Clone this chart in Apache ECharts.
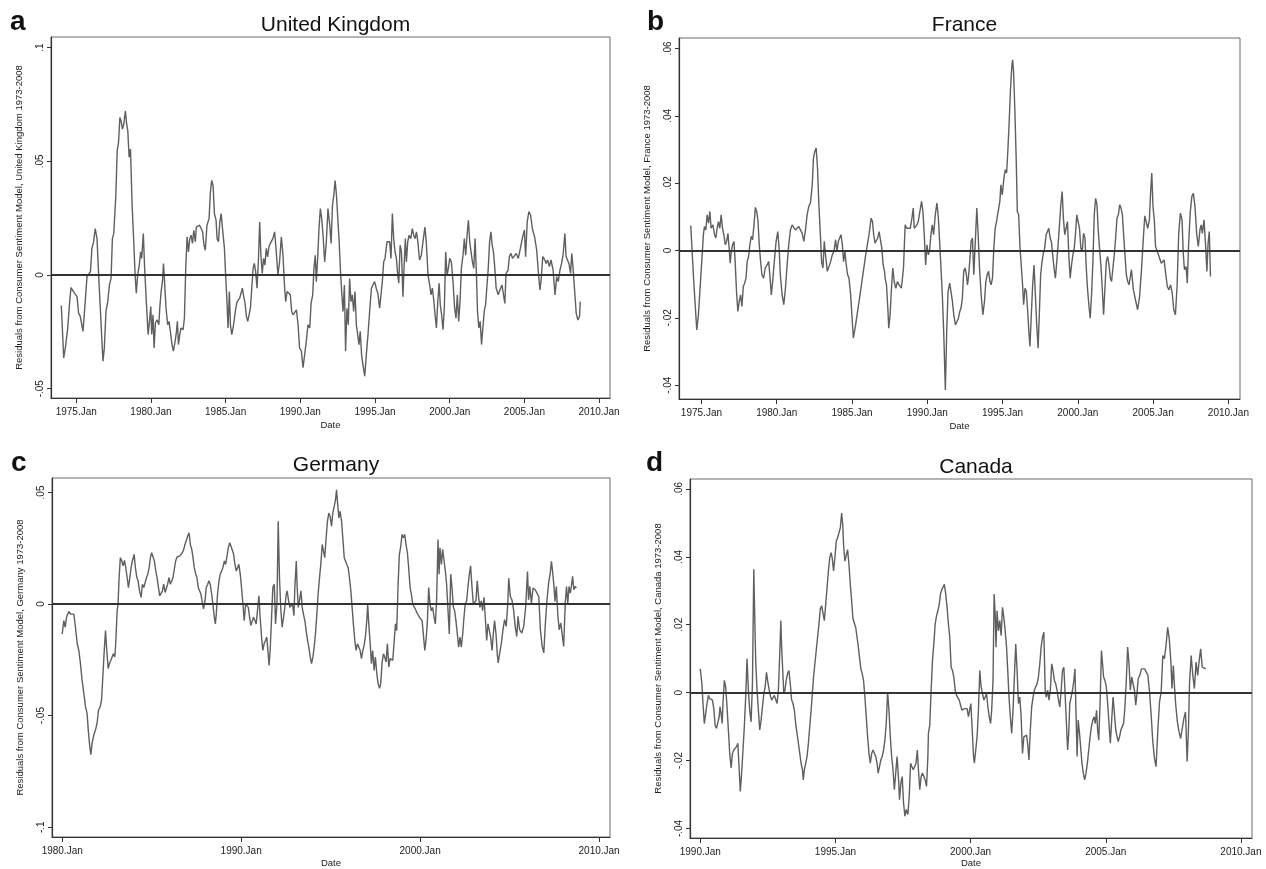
<!DOCTYPE html>
<html>
<head>
    <meta charset="UTF-8">
    <title>Residuals from Consumer Sentiment Model</title>
    <script src="https://cdn.jsdelivr.net/npm/echarts@6/dist/echarts.min.js"></script>
    <style>
        body { margin: 0; background: #fff; }
        #chart { width: 1266px; height: 869px; }
    </style>
</head>
<body>
    <div id="chart"></div>
    <script>
        // ---- data: [decimal year, residual] ----
        const ukData = [
            [1974.00,-0.0134],[1974.16,-0.0365],[1974.27,-0.0321],[1974.43,-0.0233],[1974.56,-0.0117],[1974.65,-0.0055],[1974.78,-0.0061],[1974.85,-0.0076],[1974.96,-0.0076],[1975.05,-0.0095],[1975.16,-0.0168],[1975.27,-0.0182],[1975.36,-0.0175],[1975.45,-0.0248],[1975.52,-0.0190],[1975.63,-0.0182],[1975.72,-0.0007],[1975.84,0.0000],[1975.95,0.0015],[1976.05,0.0117],[1976.16,0.0146],[1976.27,0.0204],[1976.39,0.0160],[1976.50,0.0000],[1976.61,-0.0146],[1976.72,-0.0292],[1976.79,-0.0379],[1976.88,-0.0321],[1976.99,-0.0160],[1977.11,-0.0117],[1977.22,-0.0044],[1977.33,-0.0015],[1977.42,0.0160],[1977.51,0.0182],[1977.65,0.0350],[1977.74,0.0547],[1977.83,0.0583],[1977.92,0.0693],[1978.00,0.0678],[1978.09,0.0642],[1978.18,0.0663],[1978.29,0.0722],[1978.36,0.0671],[1978.45,0.0634],[1978.54,0.0518],[1978.63,0.0554],[1978.74,0.0306],[1978.85,0.0146],[1978.94,0.0000],[1979.02,-0.0080],[1979.11,0.0000],[1979.22,0.0044],[1979.31,0.0102],[1979.38,0.0073],[1979.49,0.0182],[1979.58,0.0029],[1979.69,-0.0117],[1979.81,-0.0262],[1979.90,-0.0204],[1979.99,-0.0139],[1980.05,-0.0262],[1980.14,-0.0175],[1980.21,-0.0321],[1980.30,-0.0211],[1980.41,-0.0197],[1980.53,-0.0219],[1980.59,-0.0146],[1980.68,-0.0073],[1980.77,-0.0029],[1980.84,0.0051],[1980.91,-0.0029],[1981.01,-0.0146],[1981.12,-0.0219],[1981.21,-0.0204],[1981.30,-0.0248],[1981.41,-0.0306],[1981.50,-0.0335],[1981.62,-0.0292],[1981.71,-0.0248],[1981.77,-0.0204],[1981.84,-0.0306],[1981.93,-0.0262],[1982.01,-0.0233],[1982.15,-0.0241],[1982.24,-0.0190],[1982.33,0.0029],[1982.42,0.0168],[1982.51,0.0102],[1982.60,0.0160],[1982.69,0.0175],[1982.78,0.0139],[1982.87,0.0197],[1982.97,0.0146],[1983.04,0.0211],[1983.13,0.0219],[1983.26,0.0219],[1983.35,0.0226],[1983.46,0.0190],[1983.55,0.0131],[1983.64,0.0109],[1983.75,0.0219],[1983.89,0.0248],[1983.98,0.0365],[1984.07,0.0416],[1984.16,0.0394],[1984.25,0.0270],[1984.36,0.0241],[1984.43,0.0160],[1984.52,0.0146],[1984.61,0.0233],[1984.70,0.0270],[1984.79,0.0204],[1984.92,0.0117],[1985.00,0.0000],[1985.09,-0.0117],[1985.16,-0.0233],[1985.25,-0.0073],[1985.32,-0.0219],[1985.41,-0.0262],[1985.50,-0.0233],[1985.59,-0.0190],[1985.68,-0.0146],[1985.77,-0.0117],[1985.86,-0.0117],[1985.94,-0.0102],[1986.03,-0.0080],[1986.12,-0.0058],[1986.21,-0.0095],[1986.30,-0.0124],[1986.39,-0.0182],[1986.48,-0.0204],[1986.57,-0.0211],[1986.66,-0.0146],[1986.75,-0.0058],[1986.84,0.0029],[1986.92,0.0051],[1987.01,0.0015],[1987.10,-0.0058],[1987.19,0.0058],[1987.28,0.0233],[1987.36,0.0087],[1987.45,0.0007],[1987.54,0.0073],[1987.63,0.0044],[1987.72,0.0117],[1987.81,0.0080],[1987.90,0.0124],[1987.99,0.0139],
            [1988.16,0.0160],[1988.28,0.0190],[1988.39,0.0102],[1988.50,0.0000],[1988.61,0.0058],[1988.73,0.0168],[1988.84,0.0087],[1988.95,-0.0058],[1989.02,-0.0117],[1989.11,-0.0073],[1989.22,-0.0066],[1989.33,-0.0087],[1989.42,-0.0160],[1989.51,-0.0175],[1989.63,-0.0168],[1989.74,-0.0153],[1989.85,-0.0219],[1989.95,-0.0321],[1990.07,-0.0335],[1990.18,-0.0408],[1990.29,-0.0350],[1990.40,-0.0292],[1990.51,-0.0219],[1990.63,-0.0233],[1990.72,-0.0124],[1990.83,-0.0087],[1990.91,0.0029],[1991.00,0.0087],[1991.07,-0.0029],[1991.16,0.0073],[1991.25,0.0204],[1991.34,0.0292],[1991.43,0.0248],[1991.52,0.0175],[1991.63,0.0058],[1991.74,0.0146],[1991.85,0.0292],[1991.97,0.0219],[1992.06,0.0139],[1992.15,0.0306],[1992.24,0.0350],[1992.33,0.0416],[1992.42,0.0350],[1992.51,0.0248],[1992.60,0.0146],[1992.69,0.0015],[1992.78,-0.0087],[1992.86,-0.0160],[1992.95,-0.0044],[1993.03,-0.0335],[1993.12,-0.0146],[1993.21,-0.0219],[1993.30,-0.0015],[1993.39,-0.0117],[1993.48,-0.0087],[1993.57,-0.0160],[1993.66,-0.0073],[1993.75,-0.0219],[1993.84,-0.0262],[1993.93,-0.0306],[1994.01,-0.0248],[1994.10,-0.0350],[1994.19,-0.0394],[1994.31,-0.0445],[1994.42,-0.0350],[1994.53,-0.0262],[1994.64,-0.0160],[1994.76,-0.0058],[1994.86,-0.0044],[1994.97,-0.0029],[1995.08,-0.0058],[1995.19,-0.0080],[1995.31,-0.0146],[1995.40,-0.0087],[1995.49,-0.0029],[1995.58,0.0058],[1995.67,0.0073],[1995.80,0.0146],[1995.89,0.0153],[1995.98,0.0146],[1996.07,0.0073],[1996.16,0.0270],[1996.25,0.0160],[1996.34,0.0102],[1996.43,0.0073],[1996.52,0.0000],[1996.59,-0.0036],[1996.68,0.0131],[1996.77,0.0102],[1996.87,-0.0095],[1996.94,0.0029],[1997.03,0.0160],[1997.10,0.0058],[1997.19,0.0146],[1997.28,0.0175],[1997.39,0.0160],[1997.50,0.0204],[1997.59,0.0175],[1997.68,0.0160],[1997.77,0.0190],[1997.87,0.0146],[1997.98,0.0066],[1998.10,0.0087],[1998.21,0.0146],[1998.34,0.0211],[1998.43,0.0146],[1998.55,0.0000],[1998.66,-0.0044],[1998.75,-0.0087],[1998.84,-0.0058],[1998.93,-0.0109],[1999.02,-0.0175],[1999.11,-0.0233],[1999.20,-0.0117],[1999.29,-0.0036],[1999.37,-0.0131],[1999.46,-0.0175],[1999.55,-0.0241],[1999.64,-0.0146],[1999.73,0.0102],[1999.82,0.0000],[1999.91,0.0029],[2000.00,0.0073],[2000.11,0.0058],[2000.22,-0.0029],[2000.33,-0.0146],[2000.42,-0.0190],[2000.51,-0.0087],[2000.60,-0.0204],[2000.69,-0.0117],[2000.78,0.0029],[2000.89,0.0087],[2000.98,0.0160],[2001.07,0.0087],[2001.16,0.0175],[2001.25,0.0241],[2001.34,0.0146],[2001.43,0.0102],[2001.52,0.0058],[2001.61,0.0029],[2001.70,0.0160],[2001.79,0.0000],[2001.86,-0.0160],[2001.95,-0.0233],[2002.04,-0.0204],[2002.13,-0.0306],[2002.22,-0.0233],[2002.31,-0.0160],[2002.40,-0.0131],[2002.49,-0.0131],[2002.58,0.0029],[2002.67,0.0146],[2002.76,0.0190],[2002.84,0.0131],[2002.93,0.0102],[2003.02,0.0029],[2003.11,-0.0058],[2003.25,-0.0087],
            [2003.36,-0.0066],[2003.50,-0.0044],[2003.69,-0.0125],[2003.77,0.0007],[2003.91,0.0022],[2003.99,0.0081],[2004.10,0.0095],[2004.21,0.0073],[2004.32,0.0081],[2004.45,0.0095],[2004.59,0.0073],[2004.73,0.0117],[2004.86,0.0161],[2005.00,0.0198],[2005.08,0.0081],[2005.19,0.0235],[2005.30,0.0279],[2005.41,0.0264],[2005.55,0.0198],[2005.68,0.0169],[2005.82,0.0110],[2005.96,-0.0007],[2006.04,-0.0066],[2006.12,-0.0022],[2006.23,0.0081],[2006.37,0.0066],[2006.45,0.0051],[2006.56,0.0066],[2006.67,0.0037],[2006.78,0.0066],[2006.92,0.0022],[2007.05,-0.0088],[2007.16,-0.0007],[2007.27,-0.0029],[2007.38,0.0022],[2007.49,0.0051],[2007.60,0.0095],[2007.71,0.0183],[2007.79,0.0081],[2007.87,0.0088],[2007.98,0.0051],[2008.09,0.0007],[2008.17,0.0095],[2008.25,0.0037],[2008.36,-0.0066],[2008.47,-0.0169],[2008.58,-0.0198],[2008.69,-0.0183],[2008.74,-0.0117]
        ];

        const franceData = [
            [1974.29,0.0074],[1974.49,-0.0092],[1974.69,-0.0236],[1974.80,-0.0191],[1974.91,-0.0112],[1975.02,-0.0033],[1975.13,0.0047],[1975.20,0.0071],[1975.29,0.0061],[1975.38,0.0106],[1975.47,0.0081],[1975.56,0.0116],[1975.64,0.0066],[1975.76,0.0076],[1975.87,0.0047],[1975.96,0.0037],[1976.04,0.0066],[1976.13,0.0086],[1976.22,0.0066],[1976.31,0.0106],[1976.40,0.0066],[1976.49,0.0047],[1976.58,0.0017],[1976.67,0.0027],[1976.76,0.0051],[1976.84,0.0007],[1976.91,-0.0038],[1976.98,-0.0003],[1977.07,0.0017],[1977.16,0.0027],[1977.24,-0.0033],[1977.33,-0.0122],[1977.42,-0.0181],[1977.51,-0.0151],[1977.60,-0.0132],[1977.69,-0.0166],[1977.78,-0.0107],[1977.87,-0.0097],[1977.96,-0.0082],[1978.04,-0.0033],[1978.13,-0.0018],[1978.22,0.0017],[1978.31,0.0042],[1978.40,0.0032],[1978.49,0.0076],[1978.58,0.0128],[1978.67,0.0116],[1978.76,0.0086],[1978.84,0.0017],[1978.93,-0.0033],[1979.02,-0.0072],[1979.13,-0.0082],[1979.24,-0.0052],[1979.36,-0.0043],[1979.47,-0.0033],[1979.56,-0.0082],[1979.64,-0.0132],[1979.73,-0.0092],[1979.84,-0.0033],[1979.96,0.0027],[1980.07,0.0056],[1980.16,0.0007],[1980.24,-0.0072],[1980.36,-0.0132],[1980.47,-0.0161],[1980.58,-0.0112],[1980.69,-0.0043],[1980.80,0.0017],[1980.91,0.0061],[1981.02,0.0076],[1981.13,0.0071],[1981.24,0.0061],[1981.36,0.0066],[1981.47,0.0071],[1981.58,0.0071],[1981.69,0.0051],[1981.80,0.0027],[1981.91,0.0061],[1982.02,0.0106],[1982.13,0.0131],[1982.24,0.0141],[1982.36,0.0195],[1982.44,0.0274],[1982.53,0.0294],[1982.62,0.0304],[1982.71,0.0245],[1982.80,0.0136],[1982.89,0.0056],[1982.98,-0.0033],[1983.07,-0.0052],[1983.16,0.0027],[1983.24,-0.0013],[1983.36,-0.0062],[1983.47,-0.0057],[1983.58,-0.0033],[1983.69,-0.0013],[1983.80,-0.0003],[1983.91,0.0032],[1984.00,-0.0003],[1984.09,0.0027],[1984.18,0.0037],[1984.27,0.0047],[1984.36,0.0017],[1984.44,-0.0033],[1984.53,-0.0003],[1984.62,-0.0043],[1984.71,-0.0072],[1984.80,-0.0082],[1984.91,-0.0132],[1985.02,-0.0211],[1985.09,-0.0260],[1985.24,-0.0221],[1985.47,-0.0151],[1985.69,-0.0082],[1985.91,-0.0013],[1986.13,0.0047],[1986.27,0.0096],[1986.36,0.0086],[1986.44,0.0047],[1986.53,0.0022],[1986.62,0.0027],[1986.71,0.0037],[1986.80,0.0056],[1986.89,0.0051],[1986.98,0.0007],[1987.07,-0.0043],[1987.16,-0.0062],[1987.20,-0.0082],[1987.29,-0.0102],[1987.38,-0.0171],[1987.44,-0.0231],[1987.53,-0.0191],[1987.62,-0.0112],[1987.71,-0.0052],[1987.80,-0.0092],[1987.91,-0.0112],[1988.02,-0.0092],[1988.13,-0.0102],[1988.27,-0.0112],
            [1988.33,-0.0092],[1988.42,-0.0052],[1988.53,0.0076],[1988.64,0.0066],[1988.76,0.0061],[1988.87,0.0066],[1988.98,0.0096],[1989.07,0.0126],[1989.13,0.0066],[1989.22,0.0061],[1989.31,0.0076],[1989.40,0.0086],[1989.51,0.0116],[1989.62,0.0146],[1989.71,0.0116],[1989.80,0.0047],[1989.89,-0.0043],[1989.98,0.0017],[1990.07,-0.0013],[1990.16,0.0002],[1990.24,0.0047],[1990.33,0.0076],[1990.42,0.0047],[1990.53,0.0106],[1990.64,0.0141],[1990.73,0.0101],[1990.82,0.0027],[1990.91,-0.0052],[1991.00,-0.0132],[1991.09,-0.0241],[1991.20,-0.0414],[1991.29,-0.0241],[1991.38,-0.0122],[1991.49,-0.0097],[1991.58,-0.0097],[1991.67,-0.0151],[1991.76,-0.0191],[1991.87,-0.0221],[1991.98,-0.0216],[1992.07,-0.0201],[1992.16,-0.0181],[1992.24,-0.0171],[1992.33,-0.0142],[1992.42,-0.0062],[1992.51,-0.0052],[1992.60,-0.0072],[1992.67,-0.0102],[1992.73,-0.0082],[1992.82,-0.0033],[1992.91,0.0027],[1993.00,0.0037],[1993.09,-0.0072],[1993.18,0.0017],[1993.29,0.0126],[1993.38,0.0047],[1993.47,-0.0052],[1993.58,-0.0132],[1993.69,-0.0191],[1993.80,-0.0151],[1993.89,-0.0092],[1993.98,-0.0072],[1994.07,-0.0062],[1994.16,-0.0092],[1994.24,-0.0102],[1994.33,-0.0082],[1994.42,0.0007],[1994.51,0.0066],[1994.60,0.0086],[1994.71,0.0116],[1994.82,0.0146],[1994.89,0.0195],[1994.98,0.0165],[1995.09,0.0215],[1995.18,0.0240],[1995.27,0.0230],[1995.36,0.0304],[1995.44,0.0383],[1995.53,0.0482],[1995.62,0.0551],[1995.67,0.0566],[1995.73,0.0532],[1995.82,0.0413],[1995.91,0.0264],[1995.98,0.0116],[1996.07,0.0106],[1996.16,0.0007],[1996.24,-0.0043],[1996.33,-0.0102],[1996.40,-0.0161],[1996.49,-0.0112],[1996.58,-0.0122],[1996.67,-0.0181],[1996.76,-0.0250],[1996.82,-0.0285],[1996.91,-0.0191],[1997.00,-0.0102],[1997.09,-0.0043],[1997.18,-0.0132],[1997.27,-0.0221],[1997.36,-0.0290],[1997.44,-0.0191],[1997.53,-0.0072],[1997.62,-0.0033],[1997.71,-0.0008],[1997.80,0.0007],[1997.89,0.0047],[1997.98,0.0056],[1998.07,0.0066],[1998.16,0.0037],[1998.24,0.0027],[1998.33,-0.0013],[1998.42,-0.0052],[1998.51,-0.0082],[1998.60,-0.0033],[1998.69,0.0017],[1998.78,0.0076],[1998.87,0.0136],[1998.96,0.0175],[1999.04,0.0096],[1999.13,0.0047],[1999.22,0.0066],[1999.31,0.0086],[1999.40,-0.0013],[1999.49,-0.0082],[1999.58,-0.0043],[1999.67,-0.0013],[1999.76,0.0007],[1999.84,0.0047],[1999.93,0.0106],[2000.02,0.0086],[2000.11,0.0066],[2000.20,0.0007],[2000.29,-0.0003],[2000.38,0.0051],[2000.47,0.0037],[2000.56,-0.0052],[2000.64,-0.0112],[2000.73,-0.0161],[2000.82,-0.0201],[2000.91,-0.0132],[2001.00,-0.0033],[2001.09,0.0106],[2001.18,0.0155],[2001.27,0.0136],[2001.36,0.0056],[2001.44,0.0007],[2001.53,-0.0043],[2001.62,-0.0112],[2001.71,-0.0191],[2001.80,-0.0112],[2001.89,-0.0033],[2001.98,-0.0018],[2002.07,-0.0043],[2002.16,-0.0082],[2002.24,-0.0092],[2002.33,-0.0052],[2002.42,-0.0013],[2002.51,0.0037],[2002.60,0.0096],[2002.69,0.0106],[2002.78,0.0136],[2002.87,0.0126],[2002.96,0.0106],[2003.04,0.0047],[2003.13,-0.0013],[2003.22,-0.0072],[2003.31,-0.0092],[2003.40,-0.0102],
            [2003.56,-0.0057],[2003.69,-0.0117],[2003.83,-0.0147],[2003.97,-0.0176],[2004.10,-0.0137],[2004.24,-0.0048],[2004.37,0.0051],[2004.45,0.0103],[2004.56,0.0081],[2004.64,0.0066],[2004.75,0.0091],[2004.83,0.0170],[2004.91,0.0230],[2004.99,0.0131],[2005.08,0.0091],[2005.16,0.0012],[2005.24,0.0017],[2005.32,-0.0008],[2005.43,-0.0023],[2005.54,-0.0038],[2005.64,-0.0043],[2005.73,-0.0028],[2005.83,-0.0067],[2005.94,-0.0107],[2006.05,-0.0117],[2006.16,-0.0102],[2006.27,-0.0127],[2006.37,-0.0176],[2006.48,-0.0191],[2006.59,-0.0107],[2006.70,0.0051],[2006.81,0.0111],[2006.92,0.0091],[2007.00,-0.0008],[2007.08,-0.0057],[2007.19,-0.0048],[2007.27,-0.0097],[2007.35,0.0012],[2007.46,0.0111],[2007.57,0.0160],[2007.67,0.0170],[2007.78,0.0131],[2007.89,0.0051],[2008.00,0.0012],[2008.11,0.0061],[2008.19,0.0076],[2008.27,0.0051],[2008.38,0.0091],[2008.49,0.0012],[2008.57,-0.0062],[2008.65,0.0022],[2008.73,0.0056],[2008.81,-0.0077]
        ];

        const germanyData = [
            [1980.00,-0.0134],[1980.09,-0.0074],[1980.17,-0.0104],[1980.24,-0.0059],[1980.31,-0.0045],[1980.39,-0.0033],[1980.46,-0.0045],[1980.56,-0.0042],[1980.65,-0.0045],[1980.74,-0.0104],[1980.84,-0.0178],[1980.93,-0.0208],[1981.02,-0.0267],[1981.11,-0.0341],[1981.21,-0.0401],[1981.30,-0.0460],[1981.39,-0.0490],[1981.47,-0.0579],[1981.54,-0.0638],[1981.60,-0.0675],[1981.67,-0.0623],[1981.77,-0.0586],[1981.86,-0.0564],[1981.95,-0.0534],[1982.03,-0.0475],[1982.12,-0.0460],[1982.20,-0.0430],[1982.27,-0.0326],[1982.35,-0.0208],[1982.42,-0.0119],[1982.49,-0.0208],[1982.57,-0.0289],[1982.64,-0.0267],[1982.72,-0.0252],[1982.79,-0.0237],[1982.86,-0.0223],[1982.94,-0.0237],[1982.99,-0.0178],[1983.07,-0.0030],[1983.12,0.0000],[1983.18,0.0119],[1983.25,0.0208],[1983.33,0.0193],[1983.40,0.0171],[1983.48,0.0196],[1983.55,0.0163],[1983.63,0.0119],[1983.70,0.0074],[1983.78,0.0119],[1983.85,0.0163],[1983.92,0.0193],[1984.02,0.0223],[1984.09,0.0163],[1984.17,0.0119],[1984.24,0.0104],[1984.32,0.0059],[1984.41,0.0030],[1984.48,0.0089],[1984.56,0.0074],[1984.63,0.0074],[1984.71,0.0119],[1984.78,0.0134],[1984.86,0.0163],[1984.93,0.0208],[1985.00,0.0230],[1985.08,0.0237],[1985.15,0.0193],[1985.23,0.0148],[1985.30,0.0119],[1985.38,0.0074],[1985.45,0.0037],[1985.52,0.0045],[1985.60,0.0059],[1985.67,0.0089],[1985.75,0.0052],[1985.82,0.0059],[1985.89,0.0089],[1985.97,0.0119],[1986.04,0.0089],[1986.12,0.0104],[1986.19,0.0119],[1986.27,0.0126],[1986.34,0.0193],[1986.42,0.0211],[1986.49,0.0208],[1986.56,0.0215],[1986.64,0.0223],[1986.71,0.0230],[1986.79,0.0245],[1986.86,0.0267],[1986.94,0.0275],[1987.01,0.0304],[1987.09,0.0319],[1987.16,0.0267],[1987.24,0.0245],[1987.31,0.0208],[1987.38,0.0163],[1987.46,0.0134],[1987.53,0.0119],[1987.60,0.0074],[1987.68,0.0067],[1987.75,0.0045],[1987.83,0.0007],[1987.90,-0.0022],[1987.98,0.0015],[1988.05,0.0074],[1988.13,0.0089],[1988.20,0.0104],[1988.27,0.0089],[1988.35,0.0045],[1988.42,0.0000],[1988.50,-0.0059],[1988.56,-0.0089],[1988.61,-0.0045],[1988.68,0.0045],[1988.76,0.0104],[1988.83,0.0134],[1988.91,0.0126],[1988.98,0.0163],[1989.06,0.0193],[1989.13,0.0178],[1989.21,0.0215],[1989.28,0.0252],[1989.36,0.0275],[1989.43,0.0260],[1989.51,0.0252],[1989.58,0.0223],[1989.65,0.0178],[1989.73,0.0148],[1989.80,0.0163],[1989.87,0.0178],[1989.95,0.0134],[1990.02,0.0074],[1990.10,0.0000],[1990.17,-0.0074],[1990.25,0.0000],[1990.32,0.0007],[1990.40,-0.0015],[1990.47,-0.0059],[1990.54,-0.0096],[1990.62,-0.0104],[1990.69,-0.0059],[1990.77,-0.0074],[1990.84,-0.0089],[1990.91,-0.0030],[1990.99,0.0037],[1991.06,-0.0059],[1991.14,-0.0148],[1991.21,-0.0208],[1991.28,-0.0178],[1991.36,-0.0163],[1991.43,-0.0148],[1991.51,-0.0223],[1991.56,-0.0275],[1991.62,-0.0208],
            [1991.70,-0.0059],[1991.77,0.0074],[1991.85,0.0089],[1991.92,-0.0089],[1992.00,0.0000],[1992.07,0.0371],[1992.14,0.0119],[1992.22,-0.0030],[1992.29,-0.0104],[1992.37,-0.0059],[1992.44,-0.0015],[1992.52,0.0045],[1992.57,0.0059],[1992.65,0.0015],[1992.72,-0.0015],[1992.80,-0.0007],[1992.87,0.0000],[1992.95,-0.0052],[1993.00,0.0074],[1993.08,0.0193],[1993.13,0.0074],[1993.19,-0.0015],[1993.26,0.0015],[1993.34,0.0059],[1993.41,-0.0015],[1993.48,-0.0045],[1993.56,-0.0074],[1993.63,-0.0119],[1993.71,-0.0163],[1993.78,-0.0193],[1993.86,-0.0237],[1993.93,-0.0267],[1994.01,-0.0237],[1994.08,-0.0193],[1994.15,-0.0134],[1994.23,-0.0045],[1994.30,0.0045],[1994.38,0.0119],[1994.45,0.0178],[1994.53,0.0267],[1994.60,0.0260],[1994.67,0.0208],[1994.75,0.0297],[1994.82,0.0371],[1994.90,0.0408],[1994.97,0.0393],[1995.05,0.0349],[1995.12,0.0408],[1995.20,0.0438],[1995.27,0.0467],[1995.33,0.0512],[1995.38,0.0460],[1995.46,0.0386],[1995.53,0.0416],[1995.61,0.0371],[1995.68,0.0297],[1995.76,0.0208],[1995.83,0.0200],[1995.90,0.0178],[1995.98,0.0163],[1996.05,0.0119],[1996.13,0.0059],[1996.20,-0.0015],[1996.27,-0.0089],[1996.35,-0.0163],[1996.42,-0.0208],[1996.50,-0.0178],[1996.57,-0.0186],[1996.65,-0.0208],[1996.72,-0.0245],[1996.80,-0.0208],[1996.87,-0.0186],[1996.94,-0.0148],[1997.02,-0.0074],[1997.07,0.0000],[1997.13,-0.0089],[1997.21,-0.0178],[1997.28,-0.0267],[1997.35,-0.0208],[1997.43,-0.0297],[1997.50,-0.0237],[1997.58,-0.0312],[1997.65,-0.0356],[1997.73,-0.0378],[1997.80,-0.0356],[1997.87,-0.0267],[1997.95,-0.0223],[1998.02,-0.0237],[1998.10,-0.0260],[1998.17,-0.0178],[1998.25,-0.0282],[1998.32,-0.0245],[1998.40,-0.0237],[1998.47,-0.0252],[1998.54,-0.0178],[1998.62,-0.0089],[1998.69,-0.0119],[1998.77,0.0089],[1998.84,0.0223],[1998.92,0.0260],[1998.99,0.0312],[1999.07,0.0297],[1999.14,0.0312],[1999.21,0.0267],[1999.29,0.0230],[1999.36,0.0163],[1999.44,0.0074],[1999.51,0.0045],[1999.59,0.0000],[1999.66,0.0007],[1999.73,-0.0022],[1999.81,-0.0037],[1999.88,-0.0045],[1999.96,-0.0059],[2000.03,-0.0059],[2000.11,-0.0074],[2000.18,-0.0134],[2000.26,-0.0208],[2000.33,-0.0163],[2000.40,-0.0089],[2000.48,0.0074],[2000.55,0.0000],[2000.63,-0.0030],[2000.70,-0.0015],[2000.78,-0.0059],[2000.85,-0.0089],[2000.92,0.0015],[2001.00,0.0289],[2001.06,0.0134],[2001.11,0.0252],[2001.19,0.0178],[2001.26,0.0245],[2001.34,0.0193],[2001.41,0.0148],[2001.48,0.0089],[2001.56,-0.0030],[2001.63,-0.0134],[2001.71,0.0134],[2001.78,0.0074],[2001.86,-0.0015],[2001.93,-0.0030],[2002.00,-0.0074],[2002.08,-0.0134],[2002.15,-0.0193],[2002.23,-0.0148],[2002.30,-0.0193],[2002.38,-0.0134],[2002.45,-0.0059],[2002.52,0.0000],[2002.60,0.0015],[2002.67,0.0074],[2002.75,0.0134],[2002.82,0.0171],[2002.90,0.0074],[2002.97,0.0000],[2003.05,-0.0007],[2003.12,0.0015],[2003.19,0.0104],[2003.27,0.0030],[2003.34,-0.0015],[2003.42,0.0015],[2003.49,-0.0030],[2003.57,0.0030],[2003.64,-0.0059],[2003.72,-0.0163],[2003.79,-0.0089],[2003.87,-0.0119],[2003.94,-0.0148],[2004.02,-0.0208],[2004.09,-0.0134],[2004.16,-0.0074],[2004.24,-0.0134],[2004.31,-0.0223],
            [2004.36,-0.0264],[2004.45,-0.0219],[2004.54,-0.0175],[2004.63,-0.0115],[2004.72,-0.0070],[2004.81,-0.0100],[2004.90,0.0004],[2004.95,0.0116],[2005.04,0.0034],[2005.13,0.0019],[2005.22,-0.0025],[2005.31,-0.0100],[2005.40,-0.0145],[2005.47,-0.0055],[2005.56,-0.0115],[2005.68,-0.0130],[2005.79,-0.0100],[2005.90,-0.0010],[2006.00,0.0146],[2006.06,0.0019],[2006.13,0.0079],[2006.22,0.0004],[2006.31,0.0072],[2006.43,0.0064],[2006.54,0.0064],[2006.63,0.0034],[2006.72,-0.0115],[2006.82,-0.0190],[2006.91,-0.0219],[2007.00,-0.0085],[2007.09,0.0019],[2007.18,0.0094],[2007.27,0.0139],[2007.34,0.0191],[2007.41,0.0139],[2007.48,0.0079],[2007.54,0.0012],[2007.61,0.0079],[2007.70,-0.0055],[2007.77,-0.0115],[2007.86,-0.0085],[2007.95,-0.0078],[2008.02,-0.0190],[2008.11,0.0004],[2008.18,0.0079],[2008.25,0.0004],[2008.32,0.0079],[2008.39,0.0049],[2008.45,0.0079],[2008.52,0.0124],[2008.59,0.0064],[2008.66,0.0079],[2008.73,0.0072]
        ];

        const canadaData = [
            [1990.00,0.0070],[1990.06,0.0026],[1990.10,-0.0032],[1990.15,-0.0091],[1990.20,-0.0061],[1990.25,-0.0032],[1990.30,-0.0008],[1990.35,-0.0018],[1990.40,-0.0022],[1990.45,-0.0022],[1990.50,-0.0047],[1990.55,-0.0096],[1990.60,-0.0105],[1990.65,-0.0100],[1990.70,-0.0071],[1990.73,-0.0042],[1990.77,-0.0061],[1990.81,-0.0091],[1990.84,-0.0032],[1990.89,0.0036],[1990.94,0.0017],[1990.99,-0.0042],[1991.04,-0.0110],[1991.09,-0.0179],[1991.14,-0.0222],[1991.19,-0.0179],[1991.24,-0.0169],[1991.29,-0.0164],[1991.34,-0.0159],[1991.39,-0.0149],[1991.44,-0.0227],[1991.48,-0.0291],[1991.53,-0.0237],[1991.58,-0.0169],[1991.63,-0.0100],[1991.68,-0.0013],[1991.73,0.0100],[1991.78,0.0007],[1991.83,-0.0052],[1991.88,-0.0086],[1991.93,0.0026],[1991.98,0.0363],[1992.01,0.0241],[1992.05,0.0095],[1992.10,0.0007],[1992.15,-0.0052],[1992.20,-0.0110],[1992.25,-0.0081],[1992.30,-0.0042],[1992.35,-0.0003],[1992.40,0.0017],[1992.45,0.0060],[1992.49,0.0036],[1992.54,0.0012],[1992.59,-0.0008],[1992.64,-0.0022],[1992.69,-0.0018],[1992.74,-0.0008],[1992.79,-0.0013],[1992.84,-0.0032],[1992.89,0.0007],[1992.94,0.0114],[1992.98,0.0212],[1993.01,0.0134],[1993.05,0.0065],[1993.09,-0.0003],[1993.13,0.0007],[1993.18,0.0036],[1993.23,0.0056],[1993.28,0.0065],[1993.33,0.0026],[1993.38,-0.0022],[1993.43,-0.0032],[1993.48,-0.0052],[1993.53,-0.0091],[1993.58,-0.0120],[1993.63,-0.0149],[1993.68,-0.0179],[1993.73,-0.0208],[1993.78,-0.0227],[1993.81,-0.0257],[1993.85,-0.0227],[1993.90,-0.0208],[1993.95,-0.0188],[1994.00,-0.0149],[1994.05,-0.0100],[1994.10,-0.0052],[1994.15,0.0002],[1994.19,0.0046],[1994.24,0.0085],[1994.29,0.0124],[1994.34,0.0163],[1994.39,0.0202],[1994.44,0.0246],[1994.49,0.0256],[1994.54,0.0260],[1994.59,0.0212],[1994.64,0.0260],[1994.69,0.0309],[1994.74,0.0358],[1994.79,0.0397],[1994.84,0.0412],[1994.88,0.0397],[1994.93,0.0358],[1994.98,0.0397],[1995.03,0.0446],[1995.08,0.0456],[1995.13,0.0456],[1995.18,0.0485],[1995.23,0.0529],[1995.27,0.0495],[1995.30,0.0436],[1995.35,0.0387],[1995.40,0.0387],[1995.45,0.0421],[1995.50,0.0378],[1995.55,0.0319],[1995.60,0.0270],[1995.65,0.0217],[1995.70,0.0217],[1995.75,0.0192],[1995.80,0.0163],[1995.84,0.0139],[1995.89,0.0104],[1995.94,0.0070],[1995.99,0.0056],[1996.04,0.0036],[1996.09,-0.0013],[1996.14,-0.0071],[1996.19,-0.0130],[1996.24,-0.0179],[1996.29,-0.0208],[1996.34,-0.0179],[1996.39,-0.0169],[1996.44,-0.0174],[1996.49,-0.0188],[1996.54,-0.0208],[1996.58,-0.0237],[1996.63,-0.0218],[1996.68,-0.0198],[1996.73,-0.0188],[1996.78,-0.0169],[1996.83,-0.0140],[1996.88,-0.0091],[1996.93,0.0002],[1996.98,-0.0052],[1997.03,-0.0130],[1997.08,-0.0188],[1997.13,-0.0227],[1997.18,-0.0286],[1997.23,-0.0237],[1997.28,-0.0188],[1997.33,-0.0247],[1997.37,-0.0315],[1997.42,-0.0266],[1997.47,-0.0247],[1997.52,-0.0325],[1997.57,-0.0364],
            [1997.62,-0.0344],[1997.68,-0.0359],[1997.73,-0.0305],[1997.78,-0.0208],[1997.83,-0.0218],[1997.88,-0.0227],[1997.93,-0.0232],[1997.98,-0.0208],[1998.03,-0.0169],[1998.07,-0.0227],[1998.12,-0.0286],[1998.17,-0.0247],[1998.22,-0.0237],[1998.27,-0.0242],[1998.32,-0.0257],[1998.37,-0.0276],[1998.42,-0.0188],[1998.44,-0.0120],[1998.49,-0.0096],[1998.54,0.0007],[1998.59,0.0095],[1998.64,0.0143],[1998.69,0.0202],[1998.74,0.0226],[1998.79,0.0241],[1998.84,0.0260],[1998.89,0.0292],[1998.94,0.0304],[1998.99,0.0309],[1999.03,0.0319],[1999.08,0.0290],[1999.13,0.0251],[1999.18,0.0202],[1999.23,0.0163],[1999.28,0.0075],[1999.33,0.0065],[1999.38,0.0046],[1999.43,0.0007],[1999.48,-0.0008],[1999.53,-0.0003],[1999.58,-0.0022],[1999.63,-0.0037],[1999.68,-0.0052],[1999.72,-0.0057],[1999.77,-0.0047],[1999.82,-0.0052],[1999.87,-0.0047],[1999.92,-0.0071],[1999.97,-0.0076],[2000.01,-0.0032],[2000.06,-0.0110],[2000.11,-0.0188],[2000.14,-0.0208],[2000.19,-0.0169],[2000.24,-0.0130],[2000.29,-0.0052],[2000.34,0.0065],[2000.39,0.0017],[2000.44,-0.0003],[2000.49,-0.0022],[2000.54,-0.0013],[2000.59,-0.0003],[2000.64,-0.0042],[2000.69,-0.0071],[2000.74,-0.0091],[2000.78,-0.0052],[2000.83,0.0036],[2000.87,0.0290],[2000.91,0.0231],[2000.94,0.0134],[2000.98,0.0241],[2001.03,0.0182],[2001.08,0.0212],[2001.13,0.0168],[2001.18,0.0251],[2001.23,0.0221],[2001.28,0.0182],[2001.33,0.0134],[2001.38,0.0056],[2001.42,-0.0013],[2001.47,-0.0071],[2001.52,-0.0120],[2001.57,-0.0052],[2001.62,0.0046],[2001.67,0.0143],[2001.72,0.0065],[2001.77,-0.0032],[2001.82,-0.0013],[2001.87,-0.0071],[2001.92,-0.0179],[2001.97,-0.0130],[2002.02,-0.0130],[2002.07,-0.0125],[2002.11,-0.0149],[2002.16,-0.0198],[2002.21,-0.0110],[2002.26,-0.0042],[2002.31,-0.0013],[2002.36,0.0007],[2002.41,0.0017],[2002.46,0.0026],[2002.51,0.0046],[2002.56,0.0085],[2002.61,0.0134],[2002.66,0.0163],[2002.71,0.0178],[2002.76,0.0007],[2002.80,-0.0013],[2002.85,0.0007],[2002.90,-0.0022],[2002.95,0.0007],[2003.00,0.0085],[2003.05,0.0065],[2003.10,0.0036],[2003.15,0.0026],[2003.20,0.0007],[2003.25,-0.0022],[2003.30,-0.0042],[2003.35,0.0007],[2003.40,0.0065],[2003.45,0.0075],[2003.49,0.0007],[2003.54,-0.0081],[2003.59,-0.0169],[2003.63,-0.0120],[2003.67,-0.0032],[2003.72,-0.0013],[2003.77,0.0007],[2003.82,0.0036],[2003.86,0.0070],[2003.90,-0.0061],[2003.94,-0.0188],[2003.98,-0.0081],[2004.03,-0.0120],[2004.07,-0.0159],[2004.12,-0.0208],[2004.17,-0.0237],[2004.22,-0.0257],[2004.27,-0.0237],[2004.32,-0.0208],[2004.37,-0.0169],[2004.42,-0.0130],[2004.47,-0.0100],[2004.52,-0.0081],[2004.57,-0.0071],[2004.61,-0.0091],[2004.66,-0.0052],[2004.70,-0.0110],[2004.74,-0.0140],[2004.79,-0.0032],[2004.84,0.0124],[2004.87,0.0095],[2004.92,0.0046],[2004.97,0.0036],[2005.02,0.0017],[2005.07,-0.0032],[2005.12,-0.0091],[2005.17,-0.0149],[2005.22,-0.0081],[2005.27,-0.0013],[2005.32,-0.0061],[2005.37,-0.0110],[2005.42,-0.0130],[2005.46,-0.0144],[2005.51,-0.0130],[2005.56,-0.0110],[2005.61,-0.0100],[2005.66,-0.0091],[2005.71,-0.0042],[2005.76,0.0036],[2005.81,0.0134],[2005.86,0.0085],[2005.91,0.0007],[2005.96,0.0046],[2006.01,0.0051],[2006.06,0.0007],[2006.11,-0.0037],
            [2006.16,0.0002],[2006.20,0.0041],[2006.26,0.0051],[2006.32,0.0070],[2006.38,0.0065],[2006.44,0.0070],[2006.50,0.0070],[2006.56,0.0051],[2006.62,0.0002],[2006.68,-0.0066],[2006.74,-0.0144],[2006.80,-0.0193],[2006.86,-0.0218],[2006.93,-0.0105],[2006.99,-0.0027],[2007.05,0.0002],[2007.11,0.0109],[2007.17,0.0100],[2007.23,0.0139],[2007.29,0.0192],[2007.35,0.0158],[2007.41,0.0090],[2007.45,0.0012],[2007.50,0.0080],[2007.54,0.0021],[2007.59,-0.0037],[2007.65,-0.0086],[2007.71,-0.0115],[2007.77,-0.0135],[2007.83,-0.0105],[2007.89,-0.0076],[2007.95,-0.0057],[2008.01,-0.0203],[2008.06,-0.0105],[2008.10,0.0031],[2008.16,0.0109],[2008.22,0.0051],[2008.28,0.0012],[2008.34,0.0090],[2008.40,0.0051],[2008.45,0.0090],[2008.51,0.0129],[2008.57,0.0075],[2008.64,0.0070],[2008.70,0.0070]
        ];

        // tick positions
        const yearTicksAB = [1975, 1980, 1985, 1990, 1995, 2000, 2005, 2010];
        const yearTicksC = [1980, 1990, 2000, 2010];
        const yearTicksD = [1990, 1995, 2000, 2005, 2010];
        const ukValueTicks = [-0.05, 0, 0.05, 0.1];
        const franceValueTicks = [-0.04, -0.02, 0, 0.02, 0.04, 0.06];
        const germanyValueTicks = [-0.1, -0.05, 0, 0.05];
        const canadaValueTicks = [-0.04, -0.02, 0, 0.02, 0.04, 0.06];

        const countries = ['United Kingdom', 'France', 'Germany', 'Canada'];
        const letters = ['a', 'b', 'c', 'd'];

        const FONT = '"Liberation Sans", Arial, sans-serif';

        // panel layout (pixels) and axis extents
        const panels = [
            { data: ukData, xTicks: yearTicksAB, yTicks: ukValueTicks,
              grid: { left: 51, top: 37, width: 559, height: 361 },
              xMin: 1973.31, xMax: 2010.73, yMin: -0.0541, yMax: 0.1047,
              letterPos: [10, 8], titleY: 10, nameGap: 22 },
            { data: franceData, xTicks: yearTicksAB, yTicks: franceValueTicks,
              grid: { left: 679, top: 38, width: 561, height: 361 },
              xMin: 1973.51, xMax: 2010.77, yMin: -0.0441, yMax: 0.0631,
              letterPos: [647, 8], titleY: 10, nameGap: 22 },
            { data: germanyData, xTicks: yearTicksC, yTicks: germanyValueTicks,
              grid: { left: 52, top: 478, width: 558, height: 360 },
              xMin: 1979.43, xMax: 2010.61, yMin: -0.1044, yMax: 0.0565,
              letterPos: [11, 449], titleY: 450, nameGap: 21 },
            { data: canadaData, xTicks: yearTicksD, yTicks: canadaValueTicks,
              grid: { left: 690, top: 479, width: 562, height: 361 },
              xMin: 1989.62, xMax: 2010.41, yMin: -0.0428, yMax: 0.0629,
              letterPos: [646, 449], titleY: 452, nameGap: 20 }
        ];

        function fmtValue(v) {
            const s = String(+(+v).toFixed(3));
            return s.replace(/^(-?)0\./, '$1.');
        }

        const chart = echarts.init(document.getElementById('chart'), null, { renderer: 'canvas' });

        const option = {
            animation: false,
            backgroundColor: '#ffffff',
            title: panels.map((p, i) => ({
                text: countries[i],
                left: p.grid.left + p.grid.width / 2,
                top: p.titleY,
                textAlign: 'center',
                textStyle: { fontFamily: FONT, fontSize: 21, fontWeight: 'normal', color: '#111' }
            })),
            graphic: panels.map((p, i) => ({
                type: 'text',
                left: p.letterPos[0],
                top: p.letterPos[1],
                style: { text: letters[i], font: 'bold 28px ' + FONT, fill: '#111' }
            })),
            grid: panels.map(p => Object.assign({
                show: true, borderColor: '#6a6a6a', borderWidth: 1, backgroundColor: 'transparent'
            }, p.grid)),
            xAxis: panels.map((p, i) => ({
                type: 'value',
                gridIndex: i,
                min: p.xMin,
                max: p.xMax,
                name: 'Date',
                nameLocation: 'middle',
                nameGap: p.nameGap,
                nameTextStyle: { fontFamily: FONT, fontSize: 9.5, color: '#222' },
                axisLine: { show: true, onZero: false, lineStyle: { color: '#333', width: 1.2 } },
                axisTick: { show: true, inside: false, length: 5, customValues: p.xTicks, lineStyle: { color: '#333' } },
                axisLabel: {
                    customValues: p.xTicks,
                    formatter: v => Math.round(v) + '.Jan',
                    fontFamily: FONT, fontSize: 10, color: '#222', margin: 9
                },
                splitLine: { show: false }
            })),
            yAxis: panels.map((p, i) => ({
                type: 'value',
                gridIndex: i,
                min: p.yMin,
                max: p.yMax,
                name: 'Residuals from Consumer Sentiment Model, ' + countries[i] + ' 1973-2008',
                nameLocation: 'middle',
                nameGap: 27,
                nameTextStyle: { fontFamily: FONT, fontSize: 9.5, color: '#222' },
                axisLine: { show: true, onZero: false, lineStyle: { color: '#333', width: 1.2 } },
                axisTick: { show: true, inside: false, length: 4, customValues: p.yTicks, lineStyle: { color: '#333' } },
                axisLabel: {
                    customValues: p.yTicks,
                    rotate: 90,
                    formatter: fmtValue,
                    fontFamily: FONT, fontSize: 10, color: '#222', margin: 6
                },
                splitLine: { show: false }
            })),
            series: panels.map((p, i) => ({
                type: 'line',
                xAxisIndex: i,
                yAxisIndex: i,
                data: p.data,
                showSymbol: false,
                symbol: 'none',
                lineStyle: { color: '#5f5f5f', width: 1.4 },
                markLine: {
                    silent: true,
                    symbol: 'none',
                    label: { show: false },
                    lineStyle: { color: '#333', width: 1.8, type: 'solid' },
                    data: [{ yAxis: 0 }]
                }
            }))
        };

        chart.setOption(option);
    </script>
</body>
</html>
